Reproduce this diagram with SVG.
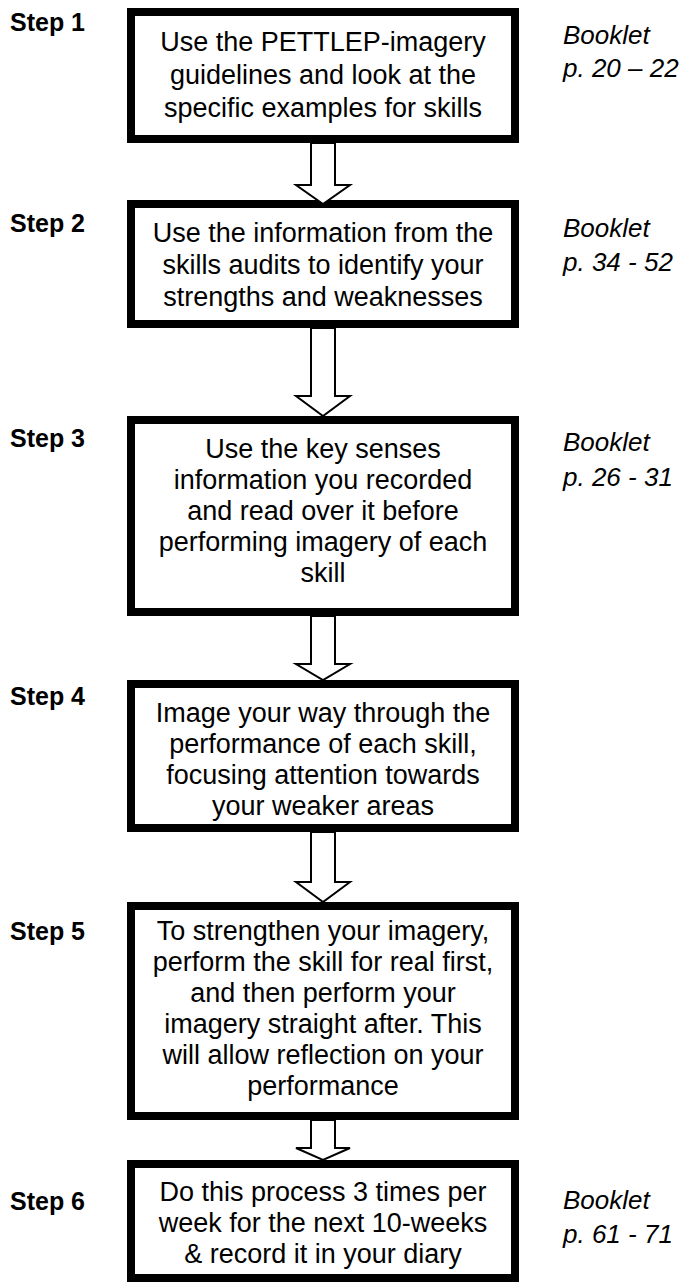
<svg xmlns="http://www.w3.org/2000/svg" width="681" height="1282" viewBox="0 0 681 1282">
<style>
.box{fill:#fff;stroke:#000;stroke-width:8}
.t{font-family:"Liberation Sans",Arial,sans-serif;font-size:27px;fill:#000;text-anchor:middle}
.step{font-family:"Liberation Sans",Arial,sans-serif;font-size:25px;font-weight:bold;fill:#000}
.bk{font-family:"Liberation Sans",Arial,sans-serif;font-size:26px;font-style:italic;fill:#000}
.arr{fill:#fff;stroke:#000;stroke-width:2;stroke-linejoin:miter}
</style>
<rect width="681" height="1282" fill="#fff"/>
<g id="step1">
<rect class="box" x="131" y="12" width="384" height="127"/>
<text class="step" x="10" y="31">Step 1</text>
<text class="t" x="323" y="51">Use the PETTLEP-imagery</text>
<text class="t" x="323" y="84">guidelines and look at the</text>
<text class="t" x="323" y="117">specific examples for skills</text>
<text class="bk" x="563" y="44">Booklet</text>
<text class="bk" x="563" y="77">p. 20 – 22</text>
</g>
<g id="step2">
<rect class="box" x="131" y="204" width="384" height="120"/>
<text class="step" x="10" y="232">Step 2</text>
<text class="t" x="323" y="242">Use the information from the</text>
<text class="t" x="323" y="274">skills audits to identify your</text>
<text class="t" x="323" y="306">strengths and weaknesses</text>
<text class="bk" x="563" y="237">Booklet</text>
<text class="bk" x="563" y="271">p. 34 - 52</text>
</g>
<g id="step3">
<rect class="box" x="131" y="420" width="384" height="192"/>
<text class="step" x="10" y="447">Step 3</text>
<text class="t" x="323" y="458">Use the key senses</text>
<text class="t" x="323" y="489">information you recorded</text>
<text class="t" x="323" y="520">and read over it before</text>
<text class="t" x="323" y="551">performing imagery of each</text>
<text class="t" x="323" y="582">skill</text>
<text class="bk" x="563" y="451">Booklet</text>
<text class="bk" x="563" y="486">p. 26 - 31</text>
</g>
<g id="step4">
<rect class="box" x="131" y="684" width="384" height="144"/>
<text class="step" x="10" y="705">Step 4</text>
<text class="t" x="323" y="722">Image your way through the</text>
<text class="t" x="323" y="753">performance of each skill,</text>
<text class="t" x="323" y="784">focusing attention towards</text>
<text class="t" x="323" y="815">your weaker areas</text>
</g>
<g id="step5">
<rect class="box" x="131" y="906" width="384" height="210"/>
<text class="step" x="10" y="940">Step 5</text>
<text class="t" x="323" y="940">To strengthen your imagery,</text>
<text class="t" x="323" y="971">perform the skill for real first,</text>
<text class="t" x="323" y="1002">and then perform your</text>
<text class="t" x="323" y="1033">imagery straight after. This</text>
<text class="t" x="323" y="1064">will allow reflection on your</text>
<text class="t" x="323" y="1095">performance</text>
</g>
<g id="step6">
<rect class="box" x="131" y="1164" width="384" height="114"/>
<text class="step" x="10" y="1210">Step 6</text>
<text class="t" x="323" y="1201">Do this process 3 times per</text>
<text class="t" x="323" y="1232">week for the next 10-weeks</text>
<text class="t" x="323" y="1263">&amp; record it in your diary</text>
<text class="bk" x="563" y="1209">Booklet</text>
<text class="bk" x="563" y="1243">p. 61 - 71</text>
</g>
<g id="connectors">
<path class="arr" d="M311,143 L311,185 L296,185 L323,204 L350,185 L335,185 L335,143 Z"/>
<path class="arr" d="M311,328 L311,396 L296,396 L323,416 L350,396 L335,396 L335,328 Z"/>
<path class="arr" d="M311,616 L311,664 L296,664 L323,680 L350,664 L335,664 L335,616 Z"/>
<path class="arr" d="M311,832 L311,882 L296,882 L323,902 L350,882 L335,882 L335,832 Z"/>
<path class="arr" d="M311,1120 L311,1148 L296,1148 L323,1160 L350,1148 L335,1148 L335,1120 Z"/>
</g>
</svg>
